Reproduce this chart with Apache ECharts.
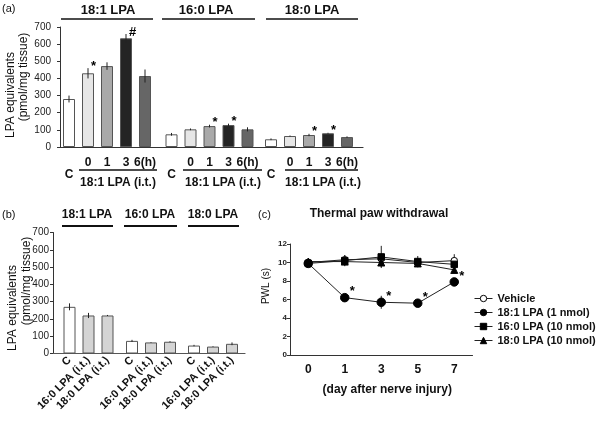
<!DOCTYPE html>
<html><head><meta charset="utf-8">
<script src="https://cdn.jsdelivr.net/npm/echarts@6/dist/echarts.min.js"></script>
<style>html,body{margin:0;padding:0;background:#fff}#c{width:600px;height:423px}</style>
</head><body><div id="c"></div>
<script>
// ---------- data ----------
const aCats = ['C', '0', '1', '3', '6(h)'];
const aGroups = ['18:1 LPA', '16:0 LPA', '18:0 LPA'];
const aSub = '18:1 LPA (i.t.)';
const yTitle1 = 'LPA equivalents';
const yTitle2 = '(pmol/mg tissue)';
const a181 = [280, 430, 472, 634, 414];
const a181Err = [20, 30, 22, 25, 38];
const a181Sig = ['', '*', '', '#', ''];
const a160 = [74, 103, 122, 128, 103];
const a160Err = [8, 5, 8, 8, 12];
const a160Sig = ['', '', '*', '*', ''];
const a180 = [45, 64, 70, 80, 58];
const a180Err = [5, 3, 7, 3, 4];
const a180Sig = ['', '', '*', '*', ''];

const bCats = ['C', '16:0 LPA (i.t.)', '18:0 LPA (i.t.)'];
const b181 = [270, 220, 220];
const b181Err = [20, 15, 3];
const b160 = [73, 64, 68];
const b160Err = [6, 2, 3];
const b180 = [46, 40, 56];
const b180Err = [4, 2, 8];

const cDays = ['0', '1', '3', '5', '7'];
const cNames = ['Vehicle', '18:1 LPA (1 nmol)', '16:0 LPA (10 nmol)', '18:0 LPA (10 nmol)'];
const cVehicle = [10.0, 10.3, 10.4, 10.0, 10.2];
const cVehicleErr = [0.3, 0.5, 0.5, 0.5, 0.7];
const c181 = [9.9, 6.2, 5.7, 5.6, 7.9];
const c181Err = [0.3, 0.3, 0.7, 0.4, 0.3];
const c160 = [9.9, 10.2, 10.6, 10.1, 9.8];
const c160Err = [0.3, 0.6, 1.2, 0.6, 0.4];
const c180 = [10.1, 10.1, 10.0, 9.9, 9.2];
const c180Err = [0.2, 0.4, 0.5, 0.4, 0.3];
const cSig = ['', '*', '*', '*', '*'];

// ---------- styles ----------
const FONT = 'Liberation Sans, Arial, Helvetica, sans-serif';
const aColors = ['#ffffff', '#e6e6e6', '#a9a9a9', '#242424', '#666666'];
const bColors = ['#ffffff', '#d4d4d4', '#d4d4d4'];

const grids = [], xAxes = [], yAxes = [], series = [];
function G(o) { o.outerBoundsMode = 'none'; o.containLabel = false; grids.push(o); return grids.length - 1; }

function errSeries(gi, vals, errs, sigs, sdx, sdy, sigAtValue) {
  series.push({
    type: 'custom', xAxisIndex: gi, yAxisIndex: gi, z: 5, silent: true,
    data: vals.map((v, i) => [i, v]),
    renderItem: function (params, api) {
      const i = params.dataIndex;
      const v = vals[i], e = errs[i];
      const p1 = api.coord([i, v + e]), p2 = api.coord([i, v - e]);
      const ch = [{ type: 'line', shape: { x1: p1[0], y1: p1[1], x2: p2[0], y2: p2[1] },
        style: { stroke: '#222', lineWidth: 1 } }];
      if (sigs && sigs[i]) {
        const ps = sigAtValue ? api.coord([i, v]) : p1;
        ch.push({ type: 'text', style: { text: sigs[i], x: ps[0] + sdx, y: ps[1] + sdy,
          fill: '#000', font: 'bold 13px ' + FONT, textAlign: 'left', textVerticalAlign: 'middle' } });
      }
      return { type: 'group', children: ch };
    }
  });
}

// ---------- panel (a) ----------
const aFrame = G({ left: 60, top: 27, width: 303, height: 120 });
xAxes.push({ gridIndex: aFrame, type: 'category', data: [''], axisLine: { lineStyle: { color: '#333', width: 1.2 } },
  axisTick: { show: false }, axisLabel: { show: false } });
yAxes.push({ gridIndex: aFrame, type: 'value', min: 0, max: 700, interval: 100,
  axisLine: { show: true, lineStyle: { color: '#333' } }, axisTick: { show: true, length: 3 },
  splitLine: { show: false }, axisLabel: { fontSize: 10, color: '#222', margin: 9, fontFamily: FONT } });

const aData = [[a181, a181Err, a181Sig], [a160, a160Err, a160Sig], [a180, a180Err, a180Sig]];
const aLefts = [59.5, 162, 261.5];
aData.forEach((d, g) => {
  const gi = G({ left: aLefts[g], top: 27, width: 95, height: 120 });
  xAxes.push({ gridIndex: gi, type: 'category', data: aCats, axisLine: { show: false }, axisTick: { show: false },
    axisLabel: { margin: 10, interval: 0, formatter: v => v === 'C' ? '{c|C}' : '{n|' + v + '}',
      rich: { n: { fontSize: 12, fontWeight: 'bold', color: '#111', fontFamily: FONT },
              c: { fontSize: 12, fontWeight: 'bold', color: '#111', fontFamily: FONT, padding: [12, 0, 0, 0] } } } });
  yAxes.push({ gridIndex: gi, type: 'value', min: 0, max: 700, show: false });
  series.push({ type: 'bar', xAxisIndex: gi, yAxisIndex: gi, barWidth: 12, silent: true,
    data: d[0].map((v, i) => ({ value: v, itemStyle: { color: aColors[i], borderColor: '#555', borderWidth: 1 } })) });
  errSeries(gi, d[0], d[1], d[2], 3, -2, false);
});

// ---------- panel (b) ----------
const bFrame = G({ left: 53, top: 232.5, width: 192, height: 121 });
xAxes.push({ gridIndex: bFrame, type: 'category', data: [''], axisLine: { lineStyle: { color: '#555', width: 1.2 } },
  axisTick: { show: false }, axisLabel: { show: false } });
yAxes.push({ gridIndex: bFrame, type: 'value', min: 0, max: 700, interval: 100,
  axisLine: { show: true, lineStyle: { color: '#333' } }, axisTick: { show: true, length: 3 },
  splitLine: { show: false }, axisLabel: { fontSize: 10, color: '#222', margin: 4, fontFamily: FONT } });
const bData = [[b181, b181Err], [b160, b160Err], [b180, b180Err]];
const bLefts = [60, 122.5, 184.5];
bData.forEach((d, g) => {
  const gi = G({ left: bLefts[g], top: 232.5, width: 57, height: 121 });
  xAxes.push({ gridIndex: gi, type: 'category', data: bCats, axisLine: { show: false }, axisTick: { show: false },
    axisLabel: { rotate: 45, interval: 0, margin: 5, fontSize: 11, fontWeight: 'bold', color: '#111', fontFamily: FONT } });
  yAxes.push({ gridIndex: gi, type: 'value', min: 0, max: 700, show: false });
  series.push({ type: 'bar', xAxisIndex: gi, yAxisIndex: gi, barWidth: 12, silent: true,
    data: d[0].map((v, i) => ({ value: v, itemStyle: { color: bColors[i], borderColor: '#555', borderWidth: 1 } })) });
  errSeries(gi, d[0], d[1], null, 0, 0, false);
});

// ---------- panel (c) ----------
const cg = G({ left: 290, top: 244, width: 182.5, height: 111 });
xAxes.push({ gridIndex: cg, type: 'category', data: cDays, boundaryGap: true,
  axisLine: { lineStyle: { color: '#333', width: 1.2 } }, axisTick: { show: false },
  axisLabel: { margin: 9, fontSize: 12, fontWeight: 'bold', color: '#111', fontFamily: FONT },
  name: '(day after nerve injury)', nameLocation: 'middle', nameGap: 29,
  nameTextStyle: { fontSize: 12, fontWeight: 'bold', color: '#111', fontFamily: FONT, padding: [0, 0, 0, 12] } });
yAxes.push({ gridIndex: cg, type: 'value', min: 0, max: 12, interval: 2,
  axisLine: { show: true, lineStyle: { color: '#333' } }, axisTick: { show: true, length: 3 },
  splitLine: { show: false }, axisLabel: { fontSize: 8, fontWeight: 'bold', color: '#222', margin: 3, fontFamily: FONT } });

const cSymbols = ['circle', 'circle', 'rect', 'triangle'];
const cSizes = [6.5, 8.5, 6.5, 7];
const cData = [[cVehicle, cVehicleErr], [c181, c181Err], [c160, c160Err], [c180, c180Err]];
cData.forEach((s, k) => {
  errSeries(cg, s[0], s[1], k === 1 ? cSig : null, 5, -6, true);
});
cData.forEach((s, k) => {
  series.push({ type: 'line', name: cNames[k], xAxisIndex: cg, yAxisIndex: cg, data: s[0], symbol: cSymbols[k],
    symbolSize: cSizes[k], z: 10, silent: true, color: '#000',
    itemStyle: { color: k === 0 ? '#fff' : '#000', borderColor: '#000', borderWidth: 1 },
    lineStyle: { color: '#222', width: 1 } });
});

// ---------- annotations ----------
const T = (text, x, y, size, bold, align, rot) => ({ type: 'text', x: x, y: y, rotation: rot || 0, silent: true,
  style: { text: text, fill: '#111', font: (bold ? 'bold ' : '') + size + 'px ' + FONT, textAlign: align || 'center', textVerticalAlign: 'middle' } });
const L = (x1, x2, y, w) => ({ type: 'line', silent: true, shape: { x1: x1, y1: y, x2: x2, y2: y }, style: { stroke: '#111', lineWidth: w } });
const R = Math.PI / 2;

const graphic = [
  T('(a)', 2, 9, 11, false, 'left'), T('(b)', 2, 215, 11, false, 'left'), T('(c)', 258, 215, 11, false, 'left'),
  T(yTitle1, 11, 95, 12, false, 'center', R), T(yTitle2, 24, 77, 12, false, 'center', R),
  T(yTitle1, 13, 308, 12, false, 'center', R), T(yTitle2, 27, 281, 12, false, 'center', R),
  T('PWL (s)', 266, 286, 10, false, 'center', R),
  T(aGroups[0], 108, 10, 13, true), T(aGroups[1], 206, 10, 13, true), T(aGroups[2], 312, 10, 13, true),
  L(61, 153, 19, 1.5), L(162, 255, 19, 1.5), L(266, 358, 19, 1.5),
  L(79, 157, 170, 1.3), L(183, 262, 170, 1.3), L(285, 358, 170, 1.3),
  T(aSub, 118, 183, 12, true), T(aSub, 223, 183, 12, true), T(aSub, 323, 183, 12, true),
  T(aGroups[0], 87, 215, 12, true), T(aGroups[1], 150, 215, 12, true), T(aGroups[2], 213, 215, 12, true),
  L(62, 113, 226, 2), L(124, 177, 226, 2), L(188, 239, 226, 2),
  T('Thermal paw withdrawal', 379, 214, 12, true)
];

const legendData = cNames.map((n, k) => ({ name: n,
  itemStyle: { color: k === 0 ? '#fff' : '#000', borderColor: '#000', borderWidth: 1 },
  lineStyle: { color: '#222', width: 1 } }));

const chart = echarts.init(document.getElementById('c'), null, { renderer: 'canvas' });
chart.setOption({
  animation: false,
  backgroundColor: '#fff',
  textStyle: { fontFamily: FONT },
  grid: grids, xAxis: xAxes, yAxis: yAxes, series: series,
  legend: { data: legendData, orient: 'vertical', left: 469, top: 288, itemGap: 3, itemWidth: 18, itemHeight: 8,
    selectedMode: false, textStyle: { fontSize: 11, fontWeight: 'bold', color: '#111', fontFamily: FONT } },
  graphic: graphic
});
</script></body></html>
